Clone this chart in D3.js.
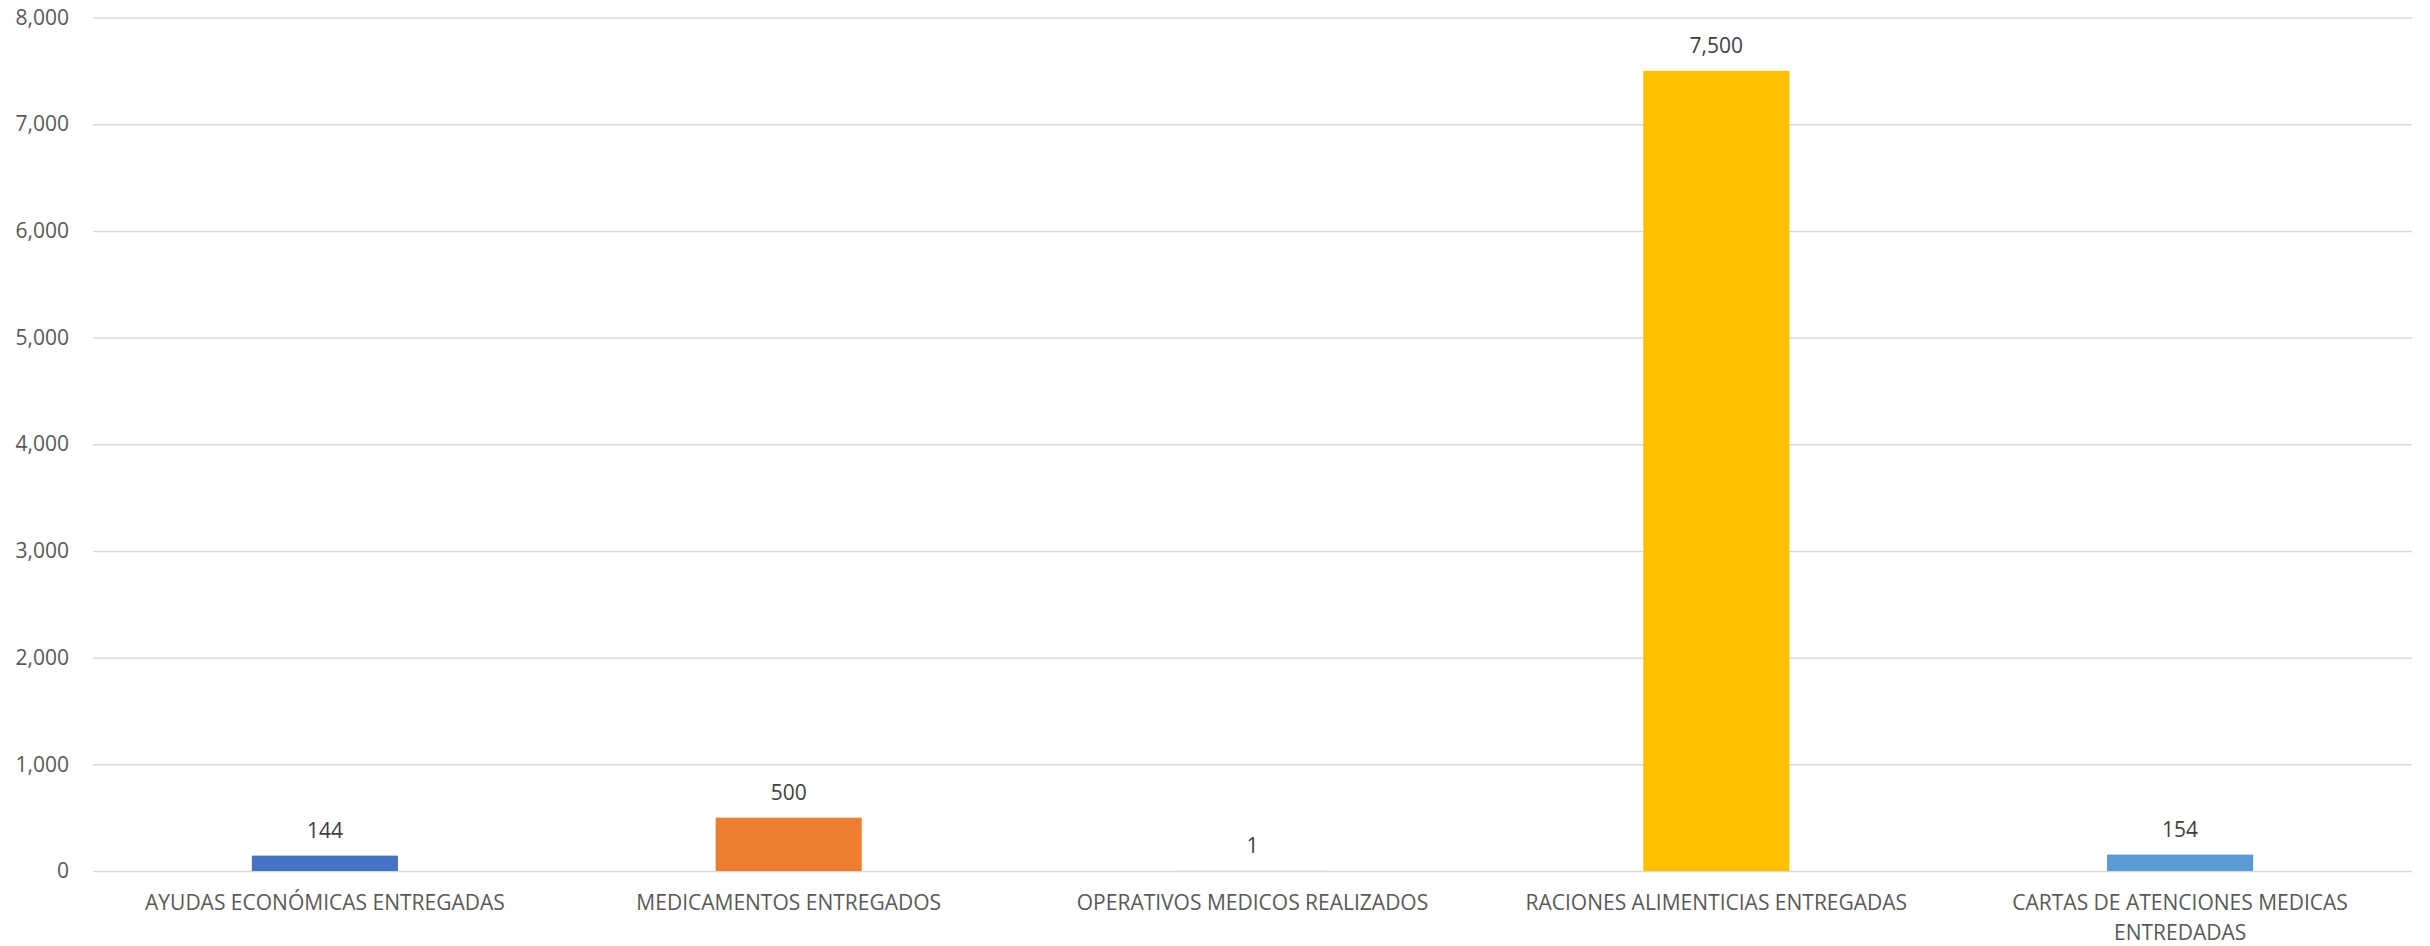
<!DOCTYPE html>
<html>
<head>
<meta charset="utf-8">
<script src="https://cdn.jsdelivr.net/npm/d3@7"></script>
<style>
  html, body { margin: 0; padding: 0; background: #ffffff; }
  svg { display: block; }
  text { font-family: "Open Sans", sans-serif; }
</style>
</head>
<body>
<svg id="chart" width="2430" height="946"></svg>
<script>
const categories = [
  "AYUDAS ECONÓMICAS ENTREGADAS",
  "MEDICAMENTOS ENTREGADOS",
  "OPERATIVOS MEDICOS REALIZADOS",
  "RACIONES ALIMENTICIAS ENTREGADAS",
  "CARTAS DE ATENCIONES MEDICAS ENTREDADAS"
];
const values = [144, 500, 1, 7500, 154];
const colors = ["#4472C4", "#ED7D31", "#A5A5A5", "#FFC000", "#5B9BD5"];
const yTicks = [0, 1000, 2000, 3000, 4000, 5000, 6000, 7000, 8000];

const W = 2430, H = 946;
const margin = { left: 93, right: 18, top: 17.5, bottom: 75 };
const svg = d3.select("#chart");
const fmt = d3.format(",");
const FS = "21px";

const x = d3.scaleBand()
  .domain(categories)
  .range([margin.left, W - margin.right])
  .paddingInner(0.685)
  .paddingOuter(0.3425);

const y = d3.scaleLinear()
  .domain([0, 8000])
  .range([H - margin.bottom, margin.top]);

// gridlines
const yAxis = d3.axisLeft(y)
  .tickValues(yTicks)
  .tickFormat(fmt)
  .tickSize(-(W - margin.right - margin.left))
  .tickPadding(24);

const gy = svg.append("g")
  .attr("transform", `translate(${margin.left},0)`)
  .call(yAxis);
gy.select(".domain").remove();
gy.selectAll(".tick line").attr("stroke", "#D9D9D9").attr("stroke-width", 1.5);
gy.selectAll(".tick text")
  .attr("fill", "#595959")
  .attr("font-size", FS)
  .attr("font-family", "Open Sans, sans-serif");

// bars
svg.append("g").selectAll("rect")
  .data(values)
  .join("rect")
  .attr("x", (d, i) => x(categories[i]))
  .attr("width", x.bandwidth())
  .attr("y", d => y(d))
  .attr("height", d => y(0) - y(d))
  .attr("fill", (d, i) => colors[i]);

// value labels
svg.append("g").selectAll("text")
  .data(values)
  .join("text")
  .attr("x", (d, i) => x(categories[i]) + x.bandwidth() / 2)
  .attr("y", d => y(d) - 18)
  .attr("text-anchor", "middle")
  .attr("fill", "#404040")
  .attr("font-size", FS)
  .text(d => fmt(d));

// x axis labels (wrapped)
const xAxis = d3.axisBottom(x).tickSize(0).tickPadding(0);
const gx = svg.append("g")
  .attr("transform", `translate(0,${y(0)})`)
  .call(xAxis);
gx.select(".domain").remove();
gx.selectAll(".tick text")
  .attr("fill", "#595959")
  .attr("font-size", FS)
  .attr("font-family", "Open Sans, sans-serif")
  .attr("dy", null)
  .attr("y", 0)
  .each(function(d) {
    const t = d3.select(this);
    const words = d.split(" ");
    const maxW = x.step() * 0.9;
    t.text(null);
    let line = [];
    let lines = [];
    let tsp = t.append("tspan");
    words.forEach(w => {
      line.push(w);
      tsp.text(line.join(" "));
      if (tsp.node().getComputedTextLength() > maxW && line.length > 1) {
        line.pop();
        lines.push(line.join(" "));
        line = [w];
        tsp.text(w);
      }
    });
    lines.push(line.join(" "));
    t.text(null);
    lines.forEach((l, i) => {
      t.append("tspan").attr("x", 0).attr("y", 39 + i * 30).text(l);
    });
  });
</script>
</body>
</html>
